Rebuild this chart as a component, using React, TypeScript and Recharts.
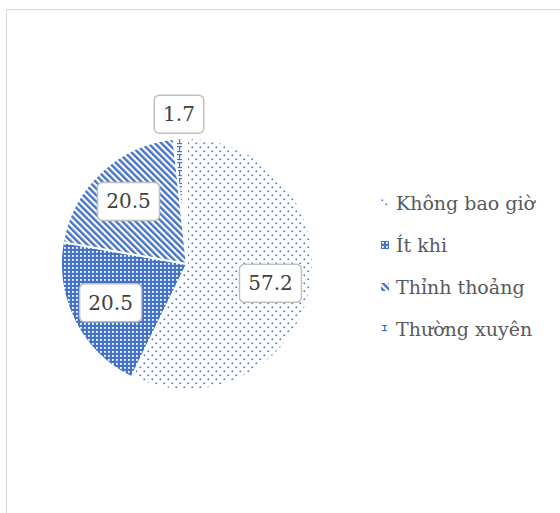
import React from 'react';
import { PieChart, Pie, Cell, Legend } from 'recharts';

const categories = ['Không bao giờ', 'Ít khi', 'Thỉnh thoảng', 'Thường xuyên'];
const values = [57.2, 20.5, 20.5, 1.7];
const patternIds = ['pDots', 'pGrid', 'pStripes', 'pDash'];

const data = categories.map((name, i) => ({ name, value: values[i] }));

const SERIF = "'DejaVu Serif', serif";
const RAD = Math.PI / 180;

const renderLabel = (props: any) => {
  const { cx, cy, midAngle, outerRadius, percent, value } = props;
  const r = percent < 0.05 ? outerRadius + 24 : outerRadius * 0.68;
  const x = cx + r * Math.cos(-midAngle * RAD);
  const y = cy + r * Math.sin(-midAngle * RAD);
  const txt = String(value);
  const w = txt.length * 12.5 + 12;
  const h = 38;
  return (
    <g>
      <rect x={x - w / 2} y={y - h / 2} width={w} height={h} rx={5} fill="#fff" stroke="#bfbfbf" strokeWidth={1.5} />
      <text x={x} y={y} dy={7} textAnchor="middle" fontSize={20} fill="#404040" style={{ fontFamily: SERIF }}>
        {txt}
      </text>
    </g>
  );
};

const renderLegend = () => (
  <div style={{ fontFamily: SERIF, fontSize: 19, color: '#595959' }}>
    {categories.map((c, i) => (
      <div key={c} style={{ height: 42, display: 'flex', alignItems: 'center' }}>
        <svg width={8} height={8} style={{ marginRight: 7 }}>
          <rect width={8} height={8} fill={`url(#${patternIds[i]})`} />
        </svg>
        <span>{c}</span>
      </div>
    ))}
  </div>
);

export default function App() {
  return (
    <div style={{ position: 'absolute', left: 6, top: 9, width: 620, height: 560, border: '1px solid #d9d9d9', background: '#fff' }}>
      <svg width={0} height={0} style={{ position: 'absolute' }}>
        <defs>
          <pattern id="pDots" width={8} height={8} patternUnits="userSpaceOnUse">
            <rect width={8} height={8} fill="#fff" />
            <rect x={0.5} y={0.5} width={1.6} height={1.6} fill="#4472C4" />
            <rect x={4.5} y={4.5} width={1.6} height={1.6} fill="#4472C4" />
          </pattern>
          <pattern id="pGrid" width={4} height={4} patternUnits="userSpaceOnUse">
            <rect width={4} height={4} fill="#4472C4" />
            <rect x={1} y={1} width={1.8} height={1.8} fill="#fff" />
          </pattern>
          <pattern id="pStripes" width={4.6} height={4.6} patternUnits="userSpaceOnUse" patternTransform="rotate(-45)">
            <rect width={4.6} height={4.6} fill="#fff" />
            <rect width={2.4} height={4.6} fill="#4472C4" />
          </pattern>
          <pattern id="pDash" width={13} height={8} patternUnits="userSpaceOnUse">
            <rect width={13} height={8} fill="#fff" />
            <rect x={1} y={0} width={5} height={1.2} fill="#4472C4" />
            <rect x={3} y={0} width={1.2} height={5} fill="#4472C4" />
            <rect x={1} y={5} width={5} height={1.2} fill="#4472C4" />
          </pattern>
        </defs>
      </svg>
      <PieChart width={620} height={560} margin={{ top: 0, right: 0, bottom: 0, left: 0 }}>
        <Pie
          data={data}
          dataKey="value"
          nameKey="name"
          cx={180}
          cy={254}
          outerRadius={126}
          startAngle={90}
          endAngle={-270}
          stroke="#fff"
          strokeWidth={2}
          label={renderLabel}
          labelLine={false}
          isAnimationActive={false}
        >
          {data.map((d, i) => (
            <Cell key={d.name} fill={`url(#${patternIds[i]})`} />
          ))}
        </Pie>
        <Legend content={renderLegend} wrapperStyle={{ left: 374, top: 172, width: 220 }} />
      </PieChart>
    </div>
  );
}
